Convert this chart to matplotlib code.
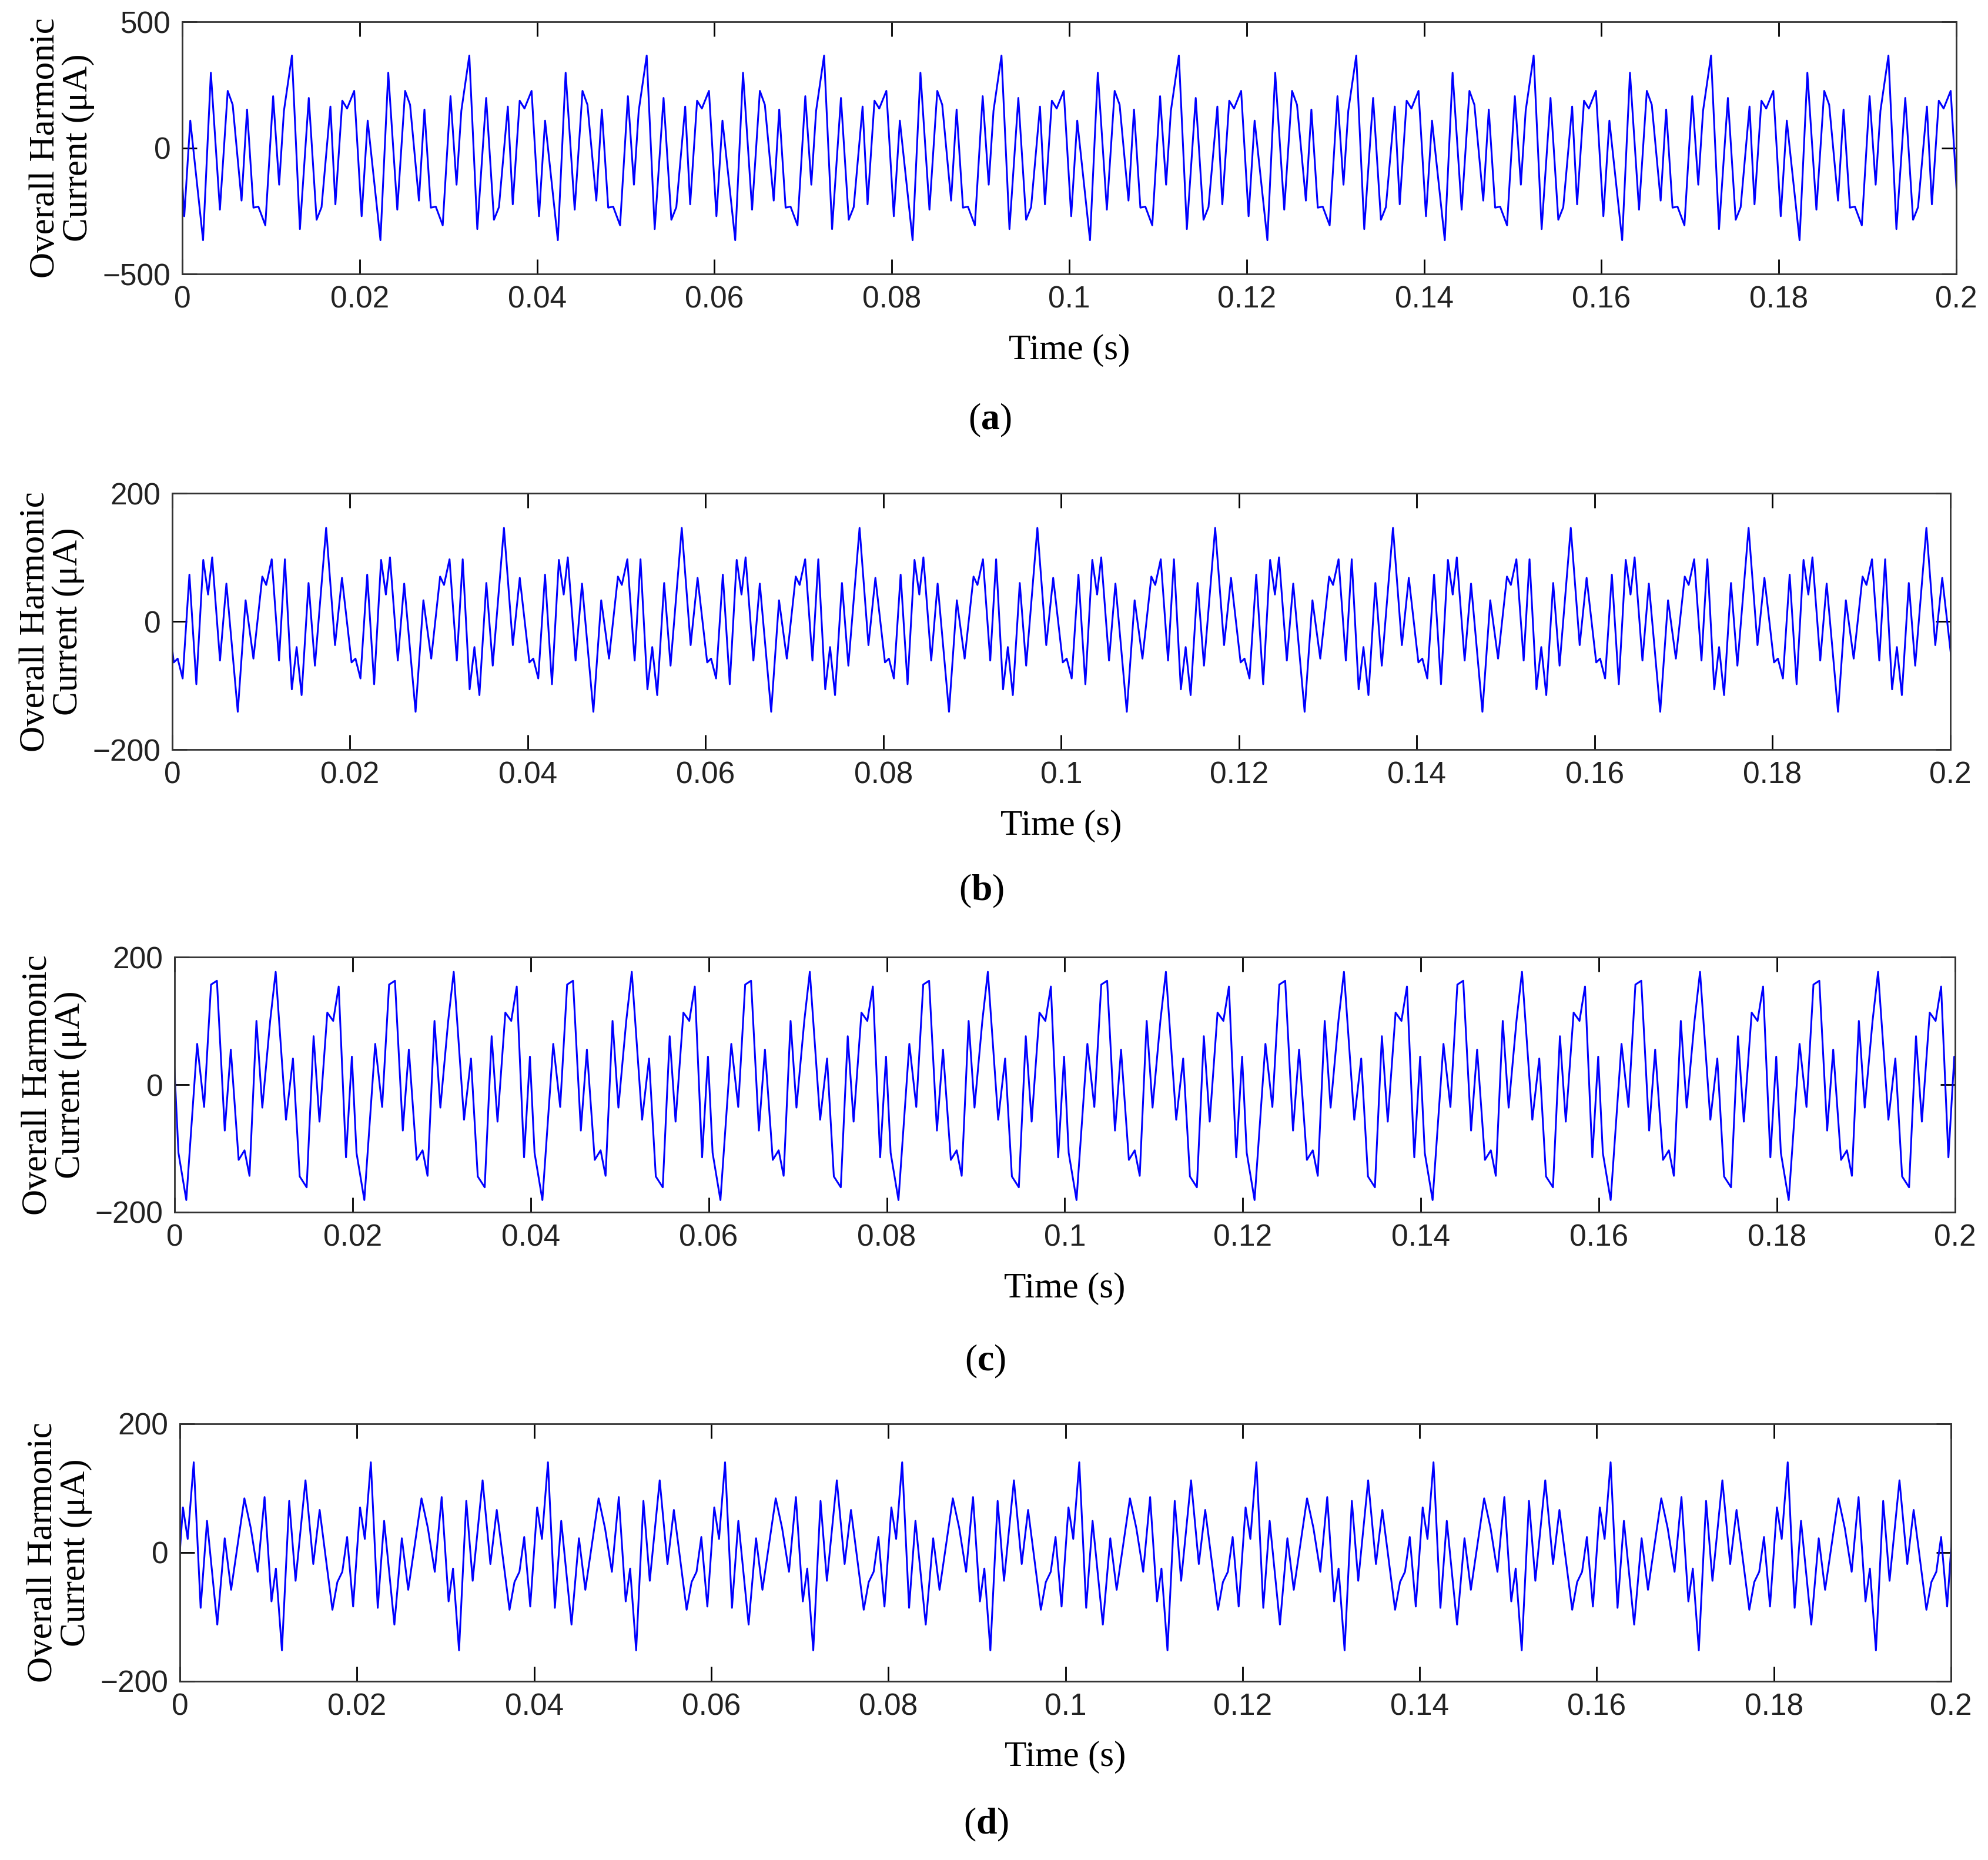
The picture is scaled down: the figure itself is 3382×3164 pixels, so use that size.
import numpy as np
import matplotlib
matplotlib.use("Agg")
import matplotlib.pyplot as plt

PERIOD = 0.02  # one fundamental cycle (50 Hz); the traces repeat every cycle
T_END = 0.2

# turning points of one cycle: phase within the cycle (0..1) and current (uA)
phase_a = [0.011, 0.045, 0.117, 0.161, 0.212, 0.256, 0.284, 0.334, 0.365, 0.401, 0.429, 0.468,
           0.512, 0.546, 0.573, 0.618, 0.663, 0.713, 0.757, 0.785, 0.835, 0.863, 0.902, 0.929, 0.969]
value_a = [-271, 108, -366, 298, -245, 226, 171, -209, 152, -237, -233, -307,
           205, -146, 147, 366, -322, 198, -285, -235, 164, -224, 187, 156, 226]

phase_b = [0.009, 0.031, 0.059, 0.097, 0.136, 0.175, 0.202, 0.225, 0.269, 0.305, 0.369, 0.413,
           0.457, 0.507, 0.529, 0.560, 0.601, 0.634, 0.673, 0.700, 0.728, 0.767, 0.803, 0.866,
           0.916, 0.955]
value_b = [-64, -58, -89, 73, -98, 96, 42, 100, -61, 59, -141, 33,
           -58, 70, 57, 97, -61, 97, -106, -40, -115, 60, -69, 146,
           -37, 68]

phase_c = [0.022, 0.066, 0.127, 0.166, 0.205, 0.238, 0.282, 0.316, 0.360, 0.393, 0.421, 0.460,
           0.493, 0.537, 0.568, 0.626, 0.665, 0.703, 0.742, 0.781, 0.814, 0.858, 0.891, 0.922,
           0.963, 0.996]
value_c = [-107, -181, 64, -35, 157, 163, -72, 55, -118, -103, -143, 100,
           -36, 100, 177, -55, 41, -144, -161, 76, -58, 113, 100, 154,
           -114, 44]

phase_d = [0.017, 0.044, 0.078, 0.117, 0.153, 0.211, 0.253, 0.289, 0.364, 0.400, 0.439, 0.478,
           0.517, 0.542, 0.576, 0.617, 0.653, 0.709, 0.753, 0.789, 0.861, 0.889, 0.917, 0.944,
           0.978]
value_d = [70, 21, 140, -86, 49, -112, 22, -58, 84, 38, -30, 86,
           -76, -25, -152, 80, -44, 112, -18, 66, -89, -46, -30, 24,
           -84]

panels = [
    ("a", phase_a, value_a, 500, [0.0917, 0.8527, 0.8923, 0.1356], 0.774),
    ("b", phase_b, value_b, 200, [0.0866, 0.5970, 0.8944, 0.1378], 0.521),
    ("c", phase_c, value_c, 200, [0.0878, 0.3483, 0.8956, 0.1371], 0.268),
    ("d", phase_d, value_d, 200, [0.0905, 0.0961, 0.8909, 0.1385], 0.019),
]

plt.rcParams["mathtext.fontset"] = "custom"
plt.rcParams["mathtext.bf"] = "Liberation Serif:bold"
plt.rcParams["mathtext.rm"] = "Liberation Serif"

fig = plt.figure(figsize=(33.82, 31.64), dpi=100)
n_cycles = int(round(T_END / PERIOD))

for letter, phase, value, lim, rect, label_y in panels:
    ax = fig.add_axes(rect)
    ph = np.asarray(phase)
    t = np.concatenate([(k + ph) * PERIOD for k in range(n_cycles)])
    y = np.tile(value, n_cycles)
    # close the trace at both edges with the neighbouring cycle's points
    t = np.concatenate([[(ph[-1] - 1) * PERIOD], t, [(n_cycles + ph[0]) * PERIOD]])
    y = np.concatenate([[value[-1]], y, [value[0]]])
    ax.plot(t, y, color="#0000ff", linewidth=2.2)
    ax.set_xlim(0, T_END)
    ax.set_ylim(-lim, lim)
    ax.set_xticks(np.arange(0, 0.2001, 0.02))
    ax.set_xticklabels(["0"] + [f"{v:g}" for v in np.arange(0.02, 0.2001, 0.02)])
    ax.set_yticks([-lim, 0, lim])
    ax.tick_params(direction="in", length=18, width=2, top=True, right=True,
                   labelsize=37, pad=14)
    for lab in ax.get_xticklabels() + ax.get_yticklabels():
        lab.set_fontfamily("Liberation Sans")
        lab.set_color("#222222")
    for sp in ax.spines.values():
        sp.set_linewidth(2)
        sp.set_color("#333333")
    ax.set_xlabel("Time (s)", fontfamily="Liberation Serif", fontsize=44, labelpad=24)
    ax.set_ylabel("Overall Harmonic\nCurrent (\u03bcA)", fontfamily="Liberation Serif",
                  fontsize=44, labelpad=10, linespacing=1.0)
    fig.text(rect[0] + rect[2] / 2 - 0.04, label_y, r"$\mathrm{(}\mathbf{" + letter + r"}\mathrm{)}$",
             ha="center", va="center", fontsize=46)

fig.savefig("out.png", dpi=100)
